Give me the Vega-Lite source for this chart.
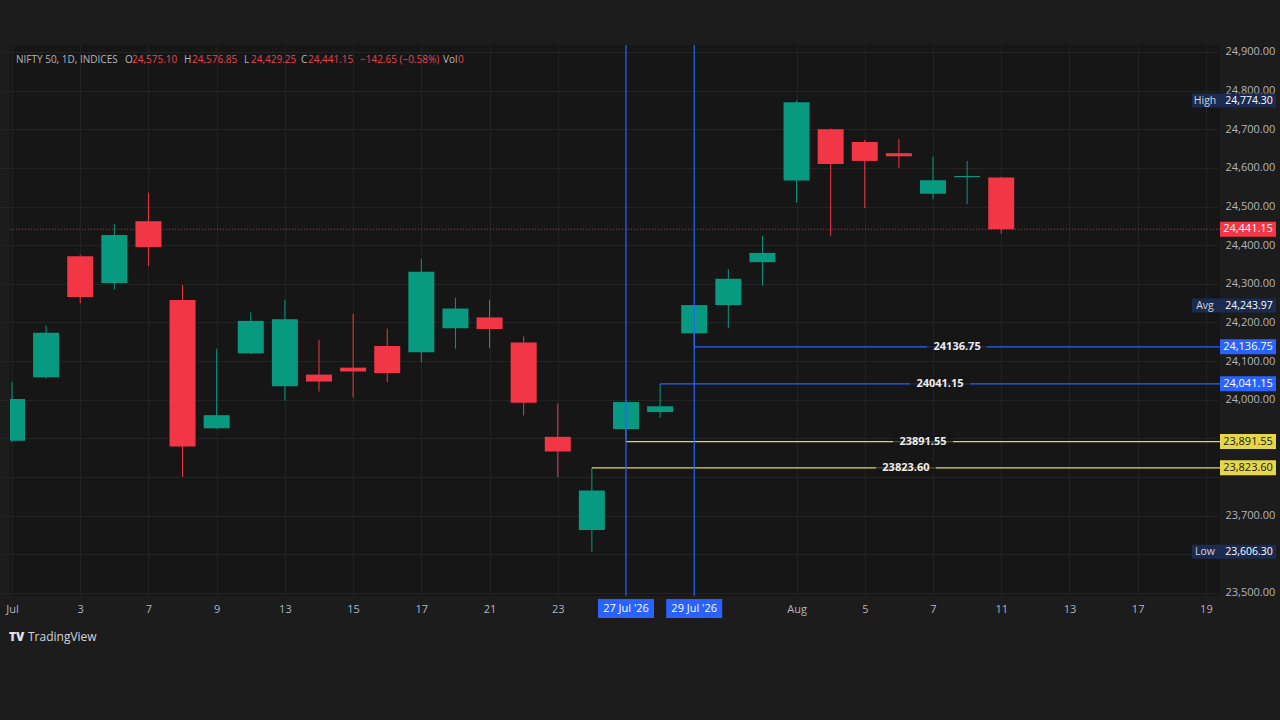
{
  "$schema": "https://vega.github.io/schema/vega-lite/v6.json",
  "autosize": {"type": "none"},
  "padding": {"left": 10, "top": 45, "right": 60, "bottom": 124},
  "width": 1210,
  "height": 551,
  "background": "#1c1c1c",
  "config": {
    "view": {"stroke": null, "fill": "#161616"},
    "font": "Open Sans",
    "text": {"font": "Open Sans"}
  },
  "datasets": {
    "candles": [
      {"d": "2026-07-01", "o": 23894, "h": 24046, "l": 23890, "c": 24002},
      {"d": "2026-07-02", "o": 24058, "h": 24192, "l": 24055, "c": 24173},
      {"d": "2026-07-03", "o": 24371, "h": 24375, "l": 24250, "c": 24266},
      {"d": "2026-07-06", "o": 24302, "h": 24455, "l": 24286, "c": 24426},
      {"d": "2026-07-07", "o": 24462, "h": 24536, "l": 24346, "c": 24395},
      {"d": "2026-07-08", "o": 24258, "h": 24297, "l": 23800, "c": 23879},
      {"d": "2026-07-09", "o": 23926, "h": 24132, "l": 23924, "c": 23960},
      {"d": "2026-07-10", "o": 24120, "h": 24226, "l": 24118, "c": 24204},
      {"d": "2026-07-13", "o": 24035, "h": 24258, "l": 23998, "c": 24208},
      {"d": "2026-07-14", "o": 24065, "h": 24155, "l": 24021, "c": 24047},
      {"d": "2026-07-15", "o": 24083, "h": 24222, "l": 24006, "c": 24073},
      {"d": "2026-07-16", "o": 24139, "h": 24184, "l": 24045, "c": 24069},
      {"d": "2026-07-17", "o": 24123, "h": 24364, "l": 24096, "c": 24331},
      {"d": "2026-07-20", "o": 24185, "h": 24264, "l": 24132, "c": 24236},
      {"d": "2026-07-21", "o": 24213, "h": 24258, "l": 24134, "c": 24183},
      {"d": "2026-07-22", "o": 24148, "h": 24164, "l": 23959, "c": 23992},
      {"d": "2026-07-23", "o": 23904, "h": 23990, "l": 23800, "c": 23866},
      {"d": "2026-07-24", "o": 23663, "h": 23823.6, "l": 23606.3, "c": 23765},
      {"d": "2026-07-27", "o": 23924, "h": 23998, "l": 23891.55, "c": 23994},
      {"d": "2026-07-28", "o": 23968, "h": 24041.15, "l": 23953, "c": 23983},
      {"d": "2026-07-29", "o": 24172, "h": 24246, "l": 24136.75, "c": 24245},
      {"d": "2026-07-30", "o": 24245, "h": 24338, "l": 24185, "c": 24313},
      {"d": "2026-07-31", "o": 24356, "h": 24424, "l": 24295, "c": 24380},
      {"d": "2026-08-03", "o": 24567, "h": 24774.3, "l": 24510, "c": 24770},
      {"d": "2026-08-04", "o": 24700, "h": 24702, "l": 24424, "c": 24610},
      {"d": "2026-08-05", "o": 24667, "h": 24672, "l": 24496, "c": 24618},
      {"d": "2026-08-06", "o": 24638, "h": 24674, "l": 24600, "c": 24630},
      {"d": "2026-08-07", "o": 24533, "h": 24629, "l": 24519, "c": 24568},
      {"d": "2026-08-10", "o": 24576, "h": 24618, "l": 24506, "c": 24579},
      {"d": "2026-08-11", "o": 24575.1, "h": 24576.85, "l": 24429.25, "c": 24441.15}
    ],
    "levels": [
      {"price": 24136.75, "start": "2026-07-29", "kind": "upper"},
      {"price": 24041.15, "start": "2026-07-28", "kind": "upper"},
      {"price": 23891.55, "start": "2026-07-27", "kind": "lower"},
      {"price": 23823.6, "start": "2026-07-24", "kind": "lower"}
    ],
    "stats": [
      {"label": "High", "price": 24774.3},
      {"label": "Avg", "price": 24243.97},
      {"label": "Low", "price": 23606.3}
    ],
    "vlines": [
      {"d": "2026-07-27", "label": "27 Jul '26"},
      {"d": "2026-07-29", "label": "29 Jul '26"}
    ],
    "one": [{}]
  },
  "layer": [
    {
      "data": {"name": "candles"},
      "mark": {"type": "rule", "clip": true, "strokeWidth": 1},
      "encoding": {
        "x": {
          "field": "d", "type": "ordinal",
          "scale": {"type": "point", "padding": 0, "range": [2, 1230], "domain": ["2026-07-01","2026-07-02","2026-07-03","2026-07-06","2026-07-07","2026-07-08","2026-07-09","2026-07-10","2026-07-13","2026-07-14","2026-07-15","2026-07-16","2026-07-17","2026-07-20","2026-07-21","2026-07-22","2026-07-23","2026-07-24","2026-07-27","2026-07-28","2026-07-29","2026-07-30","2026-07-31","2026-08-03","2026-08-04","2026-08-05","2026-08-06","2026-08-07","2026-08-10","2026-08-11","2026-08-12","2026-08-13","2026-08-14","2026-08-17","2026-08-18","2026-08-19","2026-08-20"]},
          "axis": {
            "orient": "bottom", "title": null, "domain": false, "ticks": false,
            "values": ["2026-07-01","2026-07-03","2026-07-07","2026-07-09","2026-07-13","2026-07-15","2026-07-17","2026-07-21","2026-07-23","2026-08-03","2026-08-05","2026-08-07","2026-08-11","2026-08-13","2026-08-17","2026-08-19"],
            "labelExpr": "datum.value == '2026-07-01' ? 'Jul' : datum.value == '2026-08-03' ? 'Aug' : '' + toNumber(substring(datum.value, 8, 10))",
            "labelColor": "#b2b5be", "labelFontSize": 11, "labelFont": "Open Sans", "labelAngle": 0,
            "labelPadding": 7, "labelOverlap": false,
            "grid": true, "gridColor": "#232323", "gridWidth": 1, "zindex": 0
          }
        },
        "y": {
          "field": "l", "type": "quantitative",
          "scale": {"domain": [23492, 24918], "nice": false, "zero": false},
          "axis": {
            "orient": "right", "title": null, "domain": false, "ticks": false, "tickCount": 30,
            "values": [23500,23600,23700,23800,23900,24000,24100,24200,24300,24400,24500,24600,24700,24800,24900],
            "labelExpr": "(datum.value == 23900 || datum.value == 23800 || datum.value == 23600) ? '' : format(datum.value, ',.2f')",
            "labelColor": "#b2b5be", "labelFontSize": 11, "labelFont": "Open Sans", "labelOverlap": false,
            "labelPadding": 5, "grid": true, "gridColor": "#232323", "gridWidth": 1, "zindex": 0
          }
        },
        "y2": {"field": "h"},
        "color": {"condition": {"test": "datum.c >= datum.o", "value": "#089981"}, "value": "#f23645"}
      }
    },
    {
      "data": {"name": "one"},
      "mark": {"type": "rule", "strokeDash": [1, 2], "color": "#f23645", "opacity": 0.8, "strokeWidth": 1},
      "encoding": {"y": {"datum": 24441.15, "type": "quantitative"}}
    },
    {
      "data": {"name": "candles"},
      "mark": {"type": "bar", "clip": true, "size": 26},
      "encoding": {
        "x": {"field": "d", "type": "ordinal"},
        "y": {"field": "o", "type": "quantitative"},
        "y2": {"field": "c"},
        "color": {"condition": {"test": "datum.c >= datum.o", "value": "#089981"}, "value": "#f23645"}
      }
    },
    {
      "data": {"name": "levels"},
      "mark": {"type": "rule", "clip": true, "strokeWidth": 1.3},
      "encoding": {
        "x": {"field": "start", "type": "ordinal"},
        "x2": {"datum": "2026-08-20"},
        "y": {"field": "price", "type": "quantitative"},
        "color": {"field": "kind", "type": "nominal", "scale": {"domain": ["upper", "lower"], "range": ["#2962ff", "#e6d74a"]}, "legend": null}
      }
    },
    {
      "data": {"name": "vlines"},
      "mark": {"type": "rule", "color": "#2962ff", "strokeWidth": 1.2},
      "encoding": {"x": {"field": "d", "type": "ordinal"}}
    },
    {
      "data": {"name": "vlines"},
      "mark": {"type": "tick", "color": "#2962ff", "size": 56, "thickness": 19, "yOffset": 12.5, "opacity": 1},
      "encoding": {"x": {"field": "d", "type": "ordinal"}, "y": {"datum": 23492, "type": "quantitative"}}
    },
    {
      "data": {"name": "vlines"},
      "mark": {"type": "text", "color": "#ffffff", "fontSize": 11, "align": "center", "baseline": "middle", "dy": 12.5},
      "encoding": {"x": {"field": "d", "type": "ordinal"}, "y": {"datum": 23492, "type": "quantitative"}, "text": {"field": "label"}}
    },
    {
      "data": {"name": "one"},
      "mark": {"type": "tick", "color": "#161616", "size": 60, "thickness": 12, "xOffset": -10},
      "encoding": {"x": {"datum": "2026-08-10", "type": "ordinal"}, "y": {"datum": 24136.75, "type": "quantitative"}}
    },
    {
      "data": {"name": "one"},
      "mark": {"type": "text", "text": "24136.75", "color": "#eeeeee", "fontSize": 11, "fontWeight": "bold", "align": "center", "baseline": "middle", "dx": -10},
      "encoding": {"x": {"datum": "2026-08-10", "type": "ordinal"}, "y": {"datum": 24136.75, "type": "quantitative"}}
    },
    {
      "data": {"name": "one"},
      "mark": {"type": "tick", "color": "#161616", "size": 60, "thickness": 12, "xOffset": 7},
      "encoding": {"x": {"datum": "2026-08-07", "type": "ordinal"}, "y": {"datum": 24041.15, "type": "quantitative"}}
    },
    {
      "data": {"name": "one"},
      "mark": {"type": "text", "text": "24041.15", "color": "#eeeeee", "fontSize": 11, "fontWeight": "bold", "align": "center", "baseline": "middle", "dx": 7},
      "encoding": {"x": {"datum": "2026-08-07", "type": "ordinal"}, "y": {"datum": 24041.15, "type": "quantitative"}}
    },
    {
      "data": {"name": "one"},
      "mark": {"type": "tick", "color": "#161616", "size": 60, "thickness": 12, "xOffset": -10},
      "encoding": {"x": {"datum": "2026-08-07", "type": "ordinal"}, "y": {"datum": 23891.55, "type": "quantitative"}}
    },
    {
      "data": {"name": "one"},
      "mark": {"type": "text", "text": "23891.55", "color": "#eeeeee", "fontSize": 11, "fontWeight": "bold", "align": "center", "baseline": "middle", "dx": -10},
      "encoding": {"x": {"datum": "2026-08-07", "type": "ordinal"}, "y": {"datum": 23891.55, "type": "quantitative"}}
    },
    {
      "data": {"name": "one"},
      "mark": {"type": "tick", "color": "#161616", "size": 60, "thickness": 12, "xOffset": 7},
      "encoding": {"x": {"datum": "2026-08-06", "type": "ordinal"}, "y": {"datum": 23823.6, "type": "quantitative"}}
    },
    {
      "data": {"name": "one"},
      "mark": {"type": "text", "text": "23823.60", "color": "#eeeeee", "fontSize": 11, "fontWeight": "bold", "align": "center", "baseline": "middle", "dx": 7},
      "encoding": {"x": {"datum": "2026-08-06", "type": "ordinal"}, "y": {"datum": 23823.6, "type": "quantitative"}}
    },
    {
      "data": {"name": "levels"},
      "mark": {"type": "tick", "size": 56, "thickness": 15, "xOffset": 8, "opacity": 1},
      "encoding": {
        "x": {"datum": "2026-08-20", "type": "ordinal"},
        "y": {"field": "price", "type": "quantitative"},
        "color": {"field": "kind", "type": "nominal", "legend": null}
      }
    },
    {
      "data": {"name": "levels"},
      "transform": [{"filter": "datum.kind == 'upper'"}],
      "mark": {"type": "text", "color": "#ffffff", "fontSize": 11, "align": "center", "baseline": "middle", "dx": 8},
      "encoding": {
        "x": {"datum": "2026-08-20", "type": "ordinal"},
        "y": {"field": "price", "type": "quantitative"},
        "text": {"field": "price", "type": "quantitative", "format": ",.2f"}
      }
    },
    {
      "data": {"name": "levels"},
      "transform": [{"filter": "datum.kind == 'lower'"}],
      "mark": {"type": "text", "color": "#1a1a1a", "fontSize": 11, "align": "center", "baseline": "middle", "dx": 8},
      "encoding": {
        "x": {"datum": "2026-08-20", "type": "ordinal"},
        "y": {"field": "price", "type": "quantitative"},
        "text": {"field": "price", "type": "quantitative", "format": ",.2f"}
      }
    },
    {
      "data": {"name": "one"},
      "mark": {"type": "tick", "color": "#f23645", "size": 56, "thickness": 15, "xOffset": 8, "opacity": 1},
      "encoding": {"x": {"datum": "2026-08-20", "type": "ordinal"}, "y": {"datum": 24441.15, "type": "quantitative"}}
    },
    {
      "data": {"name": "one"},
      "mark": {"type": "text", "text": "24,441.15", "color": "#ffffff", "fontSize": 11, "align": "center", "baseline": "middle", "dx": 8},
      "encoding": {"x": {"datum": "2026-08-20", "type": "ordinal"}, "y": {"datum": 24441.15, "type": "quantitative"}}
    },
    {
      "data": {"name": "stats"},
      "mark": {"type": "tick", "color": "#1b2b4f", "size": 84, "thickness": 14, "xOffset": -6, "opacity": 1},
      "encoding": {"x": {"datum": "2026-08-20", "type": "ordinal"}, "y": {"field": "price", "type": "quantitative"}}
    },
    {
      "data": {"name": "stats"},
      "mark": {"type": "text", "color": "#d1d4dc", "fontSize": 10.5, "align": "center", "baseline": "middle", "dx": -35, "dy": 0.5},
      "encoding": {"x": {"datum": "2026-08-20", "type": "ordinal"}, "y": {"field": "price", "type": "quantitative"}, "text": {"field": "label"}}
    },
    {
      "data": {"name": "stats"},
      "mark": {"type": "text", "color": "#ffffff", "fontSize": 10.5, "align": "center", "baseline": "middle", "dx": 9, "dy": 0.5},
      "encoding": {"x": {"datum": "2026-08-20", "type": "ordinal"}, "y": {"field": "price", "type": "quantitative"}, "text": {"field": "price", "type": "quantitative", "format": ",.2f"}}
    },
    {
      "data": {"name": "one"},
      "mark": {"type": "text", "text": "NIFTY 50, 1D, INDICES", "color": "#b2b5be", "fontSize": 10, "align": "left", "baseline": "middle", "dx": 4, "dy": 15},
      "encoding": {"x": {"datum": "2026-07-01", "type": "ordinal"}, "y": {"datum": 24918, "type": "quantitative"}}
    },
    {
      "data": {"name": "one"},
      "mark": {"type": "text", "text": "O", "color": "#b2b5be", "fontSize": 10, "align": "left", "baseline": "middle", "dx": 113, "dy": 15},
      "encoding": {"x": {"datum": "2026-07-01", "type": "ordinal"}, "y": {"datum": 24918, "type": "quantitative"}}
    },
    {
      "data": {"name": "one"},
      "mark": {"type": "text", "text": "24,575.10", "color": "#e8434f", "fontSize": 10, "align": "left", "baseline": "middle", "dx": 120, "dy": 15},
      "encoding": {"x": {"datum": "2026-07-01", "type": "ordinal"}, "y": {"datum": 24918, "type": "quantitative"}}
    },
    {
      "data": {"name": "one"},
      "mark": {"type": "text", "text": "H", "color": "#b2b5be", "fontSize": 10, "align": "left", "baseline": "middle", "dx": 172, "dy": 15},
      "encoding": {"x": {"datum": "2026-07-01", "type": "ordinal"}, "y": {"datum": 24918, "type": "quantitative"}}
    },
    {
      "data": {"name": "one"},
      "mark": {"type": "text", "text": "24,576.85", "color": "#e8434f", "fontSize": 10, "align": "left", "baseline": "middle", "dx": 180, "dy": 15},
      "encoding": {"x": {"datum": "2026-07-01", "type": "ordinal"}, "y": {"datum": 24918, "type": "quantitative"}}
    },
    {
      "data": {"name": "one"},
      "mark": {"type": "text", "text": "L", "color": "#b2b5be", "fontSize": 10, "align": "left", "baseline": "middle", "dx": 232, "dy": 15},
      "encoding": {"x": {"datum": "2026-07-01", "type": "ordinal"}, "y": {"datum": 24918, "type": "quantitative"}}
    },
    {
      "data": {"name": "one"},
      "mark": {"type": "text", "text": "24,429.25", "color": "#e8434f", "fontSize": 10, "align": "left", "baseline": "middle", "dx": 239, "dy": 15},
      "encoding": {"x": {"datum": "2026-07-01", "type": "ordinal"}, "y": {"datum": 24918, "type": "quantitative"}}
    },
    {
      "data": {"name": "one"},
      "mark": {"type": "text", "text": "C", "color": "#b2b5be", "fontSize": 10, "align": "left", "baseline": "middle", "dx": 289, "dy": 15},
      "encoding": {"x": {"datum": "2026-07-01", "type": "ordinal"}, "y": {"datum": 24918, "type": "quantitative"}}
    },
    {
      "data": {"name": "one"},
      "mark": {"type": "text", "text": "24,441.15", "color": "#e8434f", "fontSize": 10, "align": "left", "baseline": "middle", "dx": 296, "dy": 15},
      "encoding": {"x": {"datum": "2026-07-01", "type": "ordinal"}, "y": {"datum": 24918, "type": "quantitative"}}
    },
    {
      "data": {"name": "one"},
      "mark": {"type": "text", "text": "−142.65 (−0.58%)", "color": "#e8434f", "fontSize": 10, "align": "left", "baseline": "middle", "dx": 348, "dy": 15},
      "encoding": {"x": {"datum": "2026-07-01", "type": "ordinal"}, "y": {"datum": 24918, "type": "quantitative"}}
    },
    {
      "data": {"name": "one"},
      "mark": {"type": "text", "text": "Vol", "color": "#b2b5be", "fontSize": 10, "align": "left", "baseline": "middle", "dx": 431, "dy": 15},
      "encoding": {"x": {"datum": "2026-07-01", "type": "ordinal"}, "y": {"datum": 24918, "type": "quantitative"}}
    },
    {
      "data": {"name": "one"},
      "mark": {"type": "text", "text": "0", "color": "#e8434f", "fontSize": 10, "align": "left", "baseline": "middle", "dx": 446, "dy": 15},
      "encoding": {"x": {"datum": "2026-07-01", "type": "ordinal"}, "y": {"datum": 24918, "type": "quantitative"}}
    },
    {
      "data": {"name": "one"},
      "mark": {"type": "text", "text": "TV", "color": "#e0e3eb", "fontSize": 12, "fontWeight": 900, "align": "left", "baseline": "middle", "dx": -3, "dy": 41},
      "encoding": {"x": {"datum": "2026-07-01", "type": "ordinal"}, "y": {"datum": 23492, "type": "quantitative"}}
    },
    {
      "data": {"name": "one"},
      "mark": {"type": "text", "text": "TradingView", "color": "#d1d4dc", "fontSize": 12, "align": "left", "baseline": "middle", "dx": 16, "dy": 41},
      "encoding": {"x": {"datum": "2026-07-01", "type": "ordinal"}, "y": {"datum": 23492, "type": "quantitative"}}
    }
  ]
}
